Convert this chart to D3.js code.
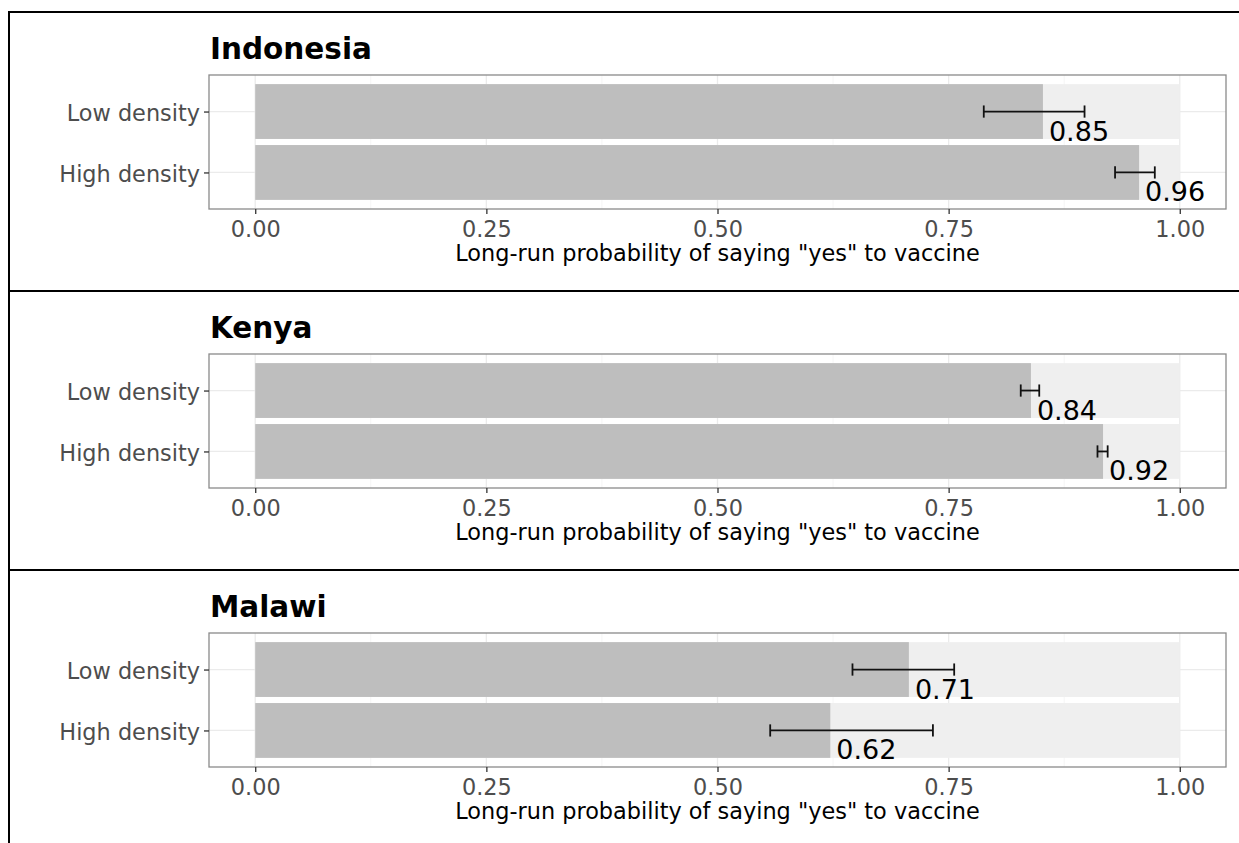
<!DOCTYPE html>
<html>
<head>
<meta charset="utf-8">
<script src="https://cdn.jsdelivr.net/npm/d3@7"></script>
<style>
  body { margin: 0; background: #fff; }
  svg { display: block; font-family: "DejaVu Sans", sans-serif; }
</style>
</head>
<body>
<script>
// data
var countries = ["Indonesia", "Kenya", "Malawi"];
var densities = ["Low density", "High density"];
var means = [[0.852, 0.956], [0.839, 0.917], [0.707, 0.622]];
var lower = [[0.788, 0.930], [0.828, 0.911], [0.646, 0.557]];
var upper = [[0.897, 0.973], [0.848, 0.922], [0.756, 0.733]];
var labels = [["0.85", "0.96"], ["0.84", "0.92"], ["0.71", "0.62"]];
var xTicks = [0, 0.25, 0.5, 0.75, 1];
var xMinor = [0.125, 0.375, 0.625, 0.875];

var W = 1239, H = 843;
var svg = d3.select("body").append("svg").attr("width", W).attr("height", H);

var panelH = 279;
var plot = { left: 209, right: 1226, top: 75, bottom: 209 };

var x = d3.scaleLinear().domain([-0.05, 1.05]).range([plot.left, plot.right]);
var y = d3.scalePoint().domain(densities).range([plot.top, plot.bottom]).padding(0.6);
var step = y.step();
var barH = step * 0.9;

countries.forEach(function (country, ci) {
    var g = svg.append("g").attr("transform", "translate(0," + (ci * panelH) + ")");

    // outer box of each panel
    g.append("rect")
        .attr("x", 9).attr("y", 12)
        .attr("width", 1300).attr("height", panelH)
        .attr("fill", "none").attr("stroke", "#000").attr("stroke-width", 2);

    g.append("text")
        .attr("x", 210).attr("y", 59)
        .attr("font-size", 29.5).attr("font-weight", "bold")
        .text(country);

    // grid
    g.selectAll("line.minor").data(xMinor).enter().append("line")
        .attr("x1", function (d) { return x(d); }).attr("x2", function (d) { return x(d); })
        .attr("y1", plot.top).attr("y2", plot.bottom)
        .attr("stroke", "#f2f2f2").attr("stroke-width", 0.8);
    g.selectAll("line.major").data(xTicks).enter().append("line")
        .attr("x1", function (d) { return x(d); }).attr("x2", function (d) { return x(d); })
        .attr("y1", plot.top).attr("y2", plot.bottom)
        .attr("stroke", "#ebebeb").attr("stroke-width", 1.3);
    g.selectAll("line.hgrid").data(densities).enter().append("line")
        .attr("x1", plot.left).attr("x2", plot.right)
        .attr("y1", function (d) { return y(d); }).attr("y2", function (d) { return y(d); })
        .attr("stroke", "#ebebeb").attr("stroke-width", 1.3);

    // background bars (0..1)
    g.selectAll("rect.bg").data(densities).enter().append("rect")
        .attr("x", x(0)).attr("width", x(1) - x(0))
        .attr("y", function (d) { return y(d) - barH / 2; })
        .attr("height", barH)
        .attr("fill", "#efefef");

    // value bars
    g.selectAll("rect.val").data(densities).enter().append("rect")
        .attr("x", x(0))
        .attr("width", function (d, i) { return x(means[ci][i]) - x(0); })
        .attr("y", function (d) { return y(d) - barH / 2; })
        .attr("height", barH)
        .attr("fill", "#bebebe");

    // error bars
    var wh = step * 0.1;
    densities.forEach(function (d, i) {
        var yy = y(d);
        var eg = g.append("g").attr("stroke", "#111").attr("stroke-width", 1.8);
        eg.append("line").attr("x1", x(lower[ci][i])).attr("x2", x(upper[ci][i])).attr("y1", yy).attr("y2", yy);
        eg.append("line").attr("x1", x(lower[ci][i])).attr("x2", x(lower[ci][i])).attr("y1", yy - wh).attr("y2", yy + wh);
        eg.append("line").attr("x1", x(upper[ci][i])).attr("x2", x(upper[ci][i])).attr("y1", yy - wh).attr("y2", yy + wh);
        g.append("text")
            .attr("x", x(means[ci][i]) + 6).attr("y", yy + 29)
            .attr("font-size", 27).attr("fill", "#000")
            .text(labels[ci][i]);
    });

    // panel border
    g.append("rect")
        .attr("x", plot.left).attr("y", plot.top)
        .attr("width", plot.right - plot.left).attr("height", plot.bottom - plot.top)
        .attr("fill", "none").attr("stroke", "#8a8a8a").attr("stroke-width", 1.3);

    // x axis
    var xa = g.append("g").attr("transform", "translate(0," + plot.bottom + ")")
        .call(d3.axisBottom(x).tickValues(xTicks).tickFormat(d3.format(".2f")).tickSize(5).tickSizeOuter(0).tickPadding(7));
    xa.select(".domain").remove();
    xa.selectAll("line").attr("stroke", "#333").attr("stroke-width", 1.3);
    xa.selectAll("text").attr("font-size", 22.4).attr("fill", "#4d4d4d").attr("font-family", "DejaVu Sans");

    // y axis
    var ya = g.append("g").attr("transform", "translate(" + plot.left + ",0)")
        .call(d3.axisLeft(y).tickSize(5).tickSizeOuter(0).tickPadding(4));
    ya.select(".domain").remove();
    ya.selectAll("line").attr("stroke", "#333").attr("stroke-width", 1.3);
    ya.selectAll("text").attr("font-size", 22.4).attr("fill", "#4d4d4d").attr("font-family", "DejaVu Sans").attr("dy", "0.4em");

    g.append("text")
        .attr("x", x(0.5)).attr("y", 261)
        .attr("text-anchor", "middle")
        .attr("font-size", 22.4).attr("fill", "#000")
        .text('Long-run probability of saying "yes" to vaccine');
});
</script>
</body>
</html>
